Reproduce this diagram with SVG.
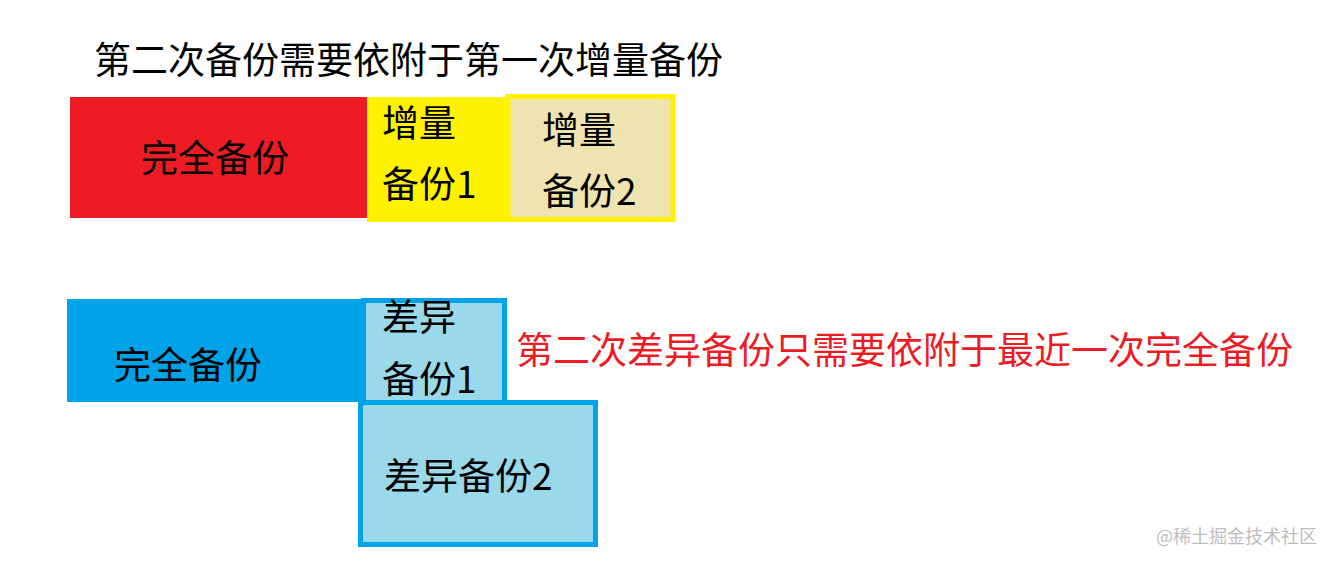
<svg xmlns="http://www.w3.org/2000/svg" width="1334" height="563" viewBox="0 0 1334 563">
<style>
  .t { font-family: "Noto Sans CJK SC", "Microsoft YaHei", sans-serif; font-size: 37px; fill: #000; }
  .red { fill: #ED1C24; }
  .wm { font-family: "Noto Sans CJK SC", sans-serif; font-size: 18px; fill: #BDBDBD; }
</style>
<rect x="0" y="0" width="1334" height="563" fill="#FFFFFF"/>
<text class="t" x="94" y="74">第二次备份需要依附于第一次增量备份</text>

<g id="full1">
  <rect x="70" y="97" width="297" height="121" fill="#ED1C24"/>
  <text class="t" x="141" y="172">完全备份</text>
</g>
<g id="inc1">
  <rect x="367" y="97" width="143" height="125" fill="#FFF200"/>
  <text class="t" x="382" y="137">增量</text>
  <text class="t" x="382" y="198">备份1</text>
</g>
<g id="inc2">
  <rect x="508" y="96.5" width="165" height="123" fill="#EFE4B0" stroke="#FFF200" stroke-width="5"/>
  <text class="t" x="542" y="144">增量</text>
  <text class="t" x="542" y="205">备份2</text>
</g>

<g id="full2">
  <rect x="67" y="299" width="296" height="103" fill="#00A2E8"/>
  <text class="t" x="114" y="379">完全备份</text>
</g>
<g id="diff1">
  <rect x="363.5" y="300.5" width="141" height="104" fill="#99D9EA" stroke="#00A2E8" stroke-width="5"/>
  <text class="t" x="382" y="331">差异</text>
  <text class="t" x="382" y="393">备份1</text>
</g>
<g id="diff2">
  <rect x="360.5" y="402.5" width="235" height="142" fill="#99D9EA" stroke="#00A2E8" stroke-width="5"/>
  <text class="t" x="384" y="490">差异备份2</text>
</g>
<g id="note">
  <text class="t red" x="516" y="364">第二次差异备份只需要依附于最近一次完全备份</text>
</g>
<g id="connectors"></g>
<text class="wm" x="1156" y="543">@稀土掘金技术社区</text>
</svg>
